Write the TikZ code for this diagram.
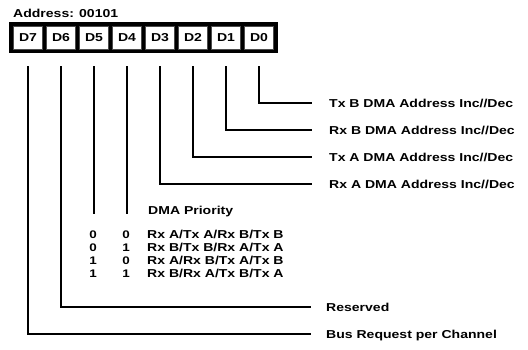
\documentclass[tikz,border=0pt]{standalone}
\usepackage{fontspec}
\setmainfont{Liberation Sans}[FakeStretch=1.22]
\usepackage{tikz}
\usetikzlibrary{positioning,calc}
\tikzset{
  regframe/.style={
    fill=black,
    minimum width=269pt,
    minimum height=31pt,
    inner sep=0pt
  },
  bitcell/.style={
    draw=black!70,
    fill=white,
    line width=0.6pt,
    minimum width=29pt,
    minimum height=23pt,
    inner sep=0pt,
    font=\fontsize{11.5}{13}\selectfont\bfseries
  },
  lbl/.style={
    anchor=west,
    inner sep=0pt,
    text height=8.2pt,
    text depth=0pt,
    font=\fontsize{11.5}{13}\selectfont\bfseries
  },
  bitval/.style={
    inner sep=0pt,
    text height=8.2pt,
    text depth=0pt,
    font=\fontsize{11}{13}\selectfont\bfseries
  },
  wire/.style={
    line width=2.8pt,
    shorten <=17pt
  }
}

\begin{document}
\begin{tikzpicture}[x=1pt,y=-1pt]
\useasboundingbox (0,0) rectangle (528,349);
\node[lbl] (addr) at (13,13) {Address: 00101};
\node[regframe] (reg) at (143.5,37.5) {};
\foreach \i in {0,...,7}
  \node[bitcell] (d\i) at ({28+(7-\i)*33},37.5) {D\i};

% bit descriptions
\node[lbl] (txb) at (329,103) {Tx B DMA Address Inc//Dec};
\node[lbl] (rxb) at (329,130) {Rx B DMA Address Inc//Dec};
\node[lbl] (txa) at (329,157) {Tx A DMA Address Inc//Dec};
\node[lbl] (rxa) at (329,184) {Rx A DMA Address Inc//Dec};
\node[lbl] (res) at (326,307) {Reserved};
\node[lbl] (bus) at (326,334) {Bus Request per Channel};

\draw[wire, shorten >=17pt] (d0.south) |- (txb.west);
\draw[wire, shorten >=17pt] (d1.south) |- (rxb.west);
\draw[wire, shorten >=17pt] (d2.south) |- (txa.west);
\draw[wire, shorten >=17pt] (d3.south) |- (rxa.west);
\draw[wire, shorten >=15pt] (d6.south) |- (res.west);
\draw[wire, shorten >=15pt] (d7.south) |- (bus.west);

% priority table
\node[lbl] (prio) at (148,210) {DMA Priority};
\draw[wire] (d5.south) -- (d5.south |- prio.south);
\draw[wire] (d4.south) -- (d4.south |- prio.south);

\node[bitval] (a1) at (93,234) {0};
\node[bitval] (b1) at (126,234) {0};
\node[lbl] (o1) at (147,234) {Rx A/Tx A/Rx B/Tx B};
\node[bitval] (a2) at (93,247) {0};
\node[bitval] (b2) at (126,247) {1};
\node[lbl] (o2) at (147,247) {Rx B/Tx B/Rx A/Tx A};
\node[bitval] (a3) at (93,260) {1};
\node[bitval] (b3) at (126,260) {0};
\node[lbl] (o3) at (147,260) {Rx A/Rx B/Tx A/Tx B};
\node[bitval] (a4) at (93,273) {1};
\node[bitval] (b4) at (126,273) {1};
\node[lbl] (o4) at (147,273) {Rx B/Rx A/Tx B/Tx A};
\end{tikzpicture}
\end{document}
